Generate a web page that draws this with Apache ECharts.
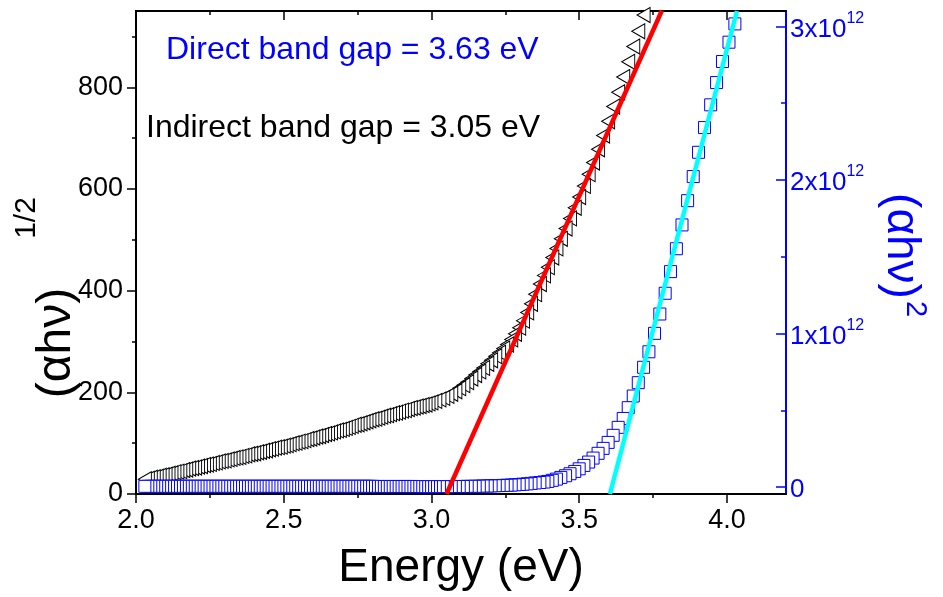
<!DOCTYPE html>
<html><head><meta charset="utf-8">
<script src="https://cdn.jsdelivr.net/npm/echarts@6/dist/echarts.min.js"></script>
<style>html,body{margin:0;padding:0;background:#fff}#c{width:943px;height:597px}</style>
</head><body><div id="c"></div>
<script>
// Photon energy (eV) of each measured point
const energyLow = [2.03,2.04,2.05,2.06,2.07,2.08,2.09,2.10,2.11,2.12,2.13,2.14,2.15,2.16,2.17,2.18,2.19,2.20,2.21,2.22,2.23,2.24,2.25,2.26,2.27,2.28,2.29,2.30,2.31,2.32,2.33,2.34,2.35,2.36,2.37,2.38,2.39,2.40,2.41,2.42,2.43,2.44,2.45,2.46,2.47,2.48,2.49,2.50,2.51,2.52,2.53,2.54,2.55,2.56,2.57,2.58,2.59,2.60,2.61,2.62,2.63,2.64,2.65,2.66,2.67,2.68,2.69,2.70,2.71,2.72,2.73,2.74,2.75,2.76,2.77,2.78,2.79,2.80,2.81,2.82,2.83,2.84,2.85,2.86,2.87,2.88,2.89,2.90,2.91,2.92,2.93,2.94,2.95,2.96,2.97,2.98,2.99,3.00];
const energyMid = [3.013,3.027,3.040,3.054,3.067,3.081,3.094,3.108,3.121,3.135,3.148,3.162,3.175,3.189,3.202,3.216,3.229,3.243,3.256,3.270,3.283,3.297,3.310,3.324,3.337,3.351,3.367];
const energyHigh = [3.381,3.394,3.409,3.423,3.438,3.454,3.469,3.485,3.500,3.516,3.532,3.547,3.564,3.581,3.598,3.615,3.632,3.649,3.666,3.683,3.700,3.718,3.736,3.755,3.773,3.791,3.809,3.829,3.848,3.867,3.886,3.904,3.924,3.945,3.965,3.985,4.007,4.027,4.047];

// (alpha h nu)^(1/2) — left axis
const sqrtLow = [29,30,32,33,34,36,37,38,40,41,43,44,45,47,48,50,51,52,54,55,57,58,59,61,62,64,65,66,68,69,71,72,73,75,76,78,79,80,82,83,85,86,88,89,91,92,93,95,96,98,100,101,103,104,106,108,109,111,113,114,116,118,119,121,123,125,126,128,130,132,134,136,137,139,141,143,145,147,148,150,152,154,155,157,159,160,162,164,165,167,169,170,172,173,175,176,178,180];
const sqrtMid = [183,186,189,193,197,202,208,214,220,227,234,241,248,256,263,271,278,286,294,304,315,327,341,357,374,393,413];
const sqrtHigh = [430,446,465,483,502,522,542,563,584,606,629,652,678,705,733,762,790,820,850,880,910,942,972];

// (alpha h nu)^2 in units of 10^12 — right axis
const sqLow = [0.005,0.005,0.005,0.005,0.005,0.005,0.005,0.005,0.005,0.005,0.005,0.005,0.005,0.005,0.005,0.005,0.005,0.005,0.005,0.005,0.005,0.005,0.005,0.005,0.005,0.005,0.005,0.005,0.005,0.005,0.005,0.005,0.005,0.005,0.005,0.005,0.005,0.005,0.005,0.005,0.005,0.005,0.005,0.005,0.005,0.005,0.005,0.005,0.005,0.005,0.005,0.005,0.005,0.005,0.005,0.005,0.005,0.005,0.005,0.005,0.005,0.005,0.005,0.005,0.005,0.005,0.005,0.005,0.005,0.005,0.005,0.005,0.005,0.005,0.005,0.005,0.005,0.005,0.004,0.004,0.004,0.004,0.004,0.004,0.004,0.004,0.004,0.004,0.004,0.004,0.004,0.004,0.003,0.003,0.003,0.003,0.003,0.003];
const sqMid = [0.003,0.003,0.003,0.003,0.004,0.004,0.004,0.004,0.005,0.005,0.005,0.006,0.007,0.007,0.008,0.009,0.010,0.011,0.012,0.013,0.015,0.017,0.019,0.021,0.024,0.027,0.030];
const sqHigh = [0.033,0.037,0.044,0.052,0.063,0.074,0.087,0.102,0.119,0.141,0.163,0.189,0.220,0.252,0.291,0.337,0.389,0.447,0.517,0.593,0.680,0.780,0.881,1.001,1.127,1.262,1.403,1.552,1.707,1.865,2.022,2.180,2.341,2.489,2.634,2.771,2.897,3.016,3.130];

// Linear fits (endpoints)
const indirectFitE = [3.051, 3.78];
const indirectFitV = [0, 951];
const directFitE = [3.604, 4.034];
const directFitV = [-0.045, 3.10];

// Tick values
const xMajor = [2.0, 2.5, 3.0, 3.5, 4.0];
const xMinor = [2.25, 2.75, 3.25, 3.75];
const yLeftMajor = [0, 200, 400, 600, 800];
const yLeftMinor = [100, 300, 500, 700, 900];
const yRightMajor = [0, 1, 2, 3];
const yRightMinor = [0.5, 1.5, 2.5];

const texts = {
  direct: 'Direct band gap = 3.63 eV',
  indirect: 'Indirect band gap = 3.05 eV',
  xName: 'Energy (eV)',
  yLeft: '(αhν)', yLeftSup: '1/2',
  yRight: '(αhν)', yRightSup: '2'
};

const energy = energyLow.concat(energyMid, energyHigh);
const sqrtVals = sqrtLow.concat(sqrtMid, sqrtHigh);
const sqVals = sqLow.concat(sqMid, sqHigh);
// points drawn from high energy to low energy (measurement order)
const pair = (xs, ys) => ys.map((y, i) => [xs[i], y]).reverse();
const line = (xs, ys) => ys.map((y, i) => [xs[i], y]);

const FONT = '"Liberation Sans", Arial, sans-serif';
const BLUE = '#0000ff';

function xAx(pos, vals, len, inside, showLine, labels) {
  return {
    type: 'value', gridIndex: 0, position: pos, min: 2.0, max: 4.2,
    axisLine: { show: showLine, onZero: false, lineStyle: { color: '#000', width: 2 } },
    axisTick: { show: true, inside: inside, length: len, customValues: vals, lineStyle: { color: '#000', width: 1.5 } },
    axisLabel: labels ? { show: true, customValues: vals, formatter: v => v.toFixed(1), fontSize: 27, fontFamily: FONT, color: '#000', margin: 13 } : { show: false },
    splitLine: { show: false }
  };
}
function yAx(pos, min, max, vals, len, inside, color, labels) {
  return {
    type: 'value', gridIndex: 0, position: pos, min: min, max: max,
    axisLine: { show: true, onZero: false, lineStyle: { color: color, width: 2 } },
    axisTick: { show: true, inside: inside, length: len, customValues: vals, lineStyle: { color: color, width: 1.5 } },
    axisLabel: labels || { show: false },
    splitLine: { show: false }
  };
}

const chart = echarts.init(document.getElementById('c'), null, { renderer: 'canvas' });
chart.setOption({
  animation: false,
  backgroundColor: '#fff',
  grid: { left: 136, right: 157, top: 11, bottom: 103, containLabel: false, outerBoundsMode: 'none' },
  xAxis: [
    xAx('bottom', xMajor, 9, false, true, true),
    xAx('bottom', xMinor, 4, false, false, false),
    xAx('top', xMajor, 9, true, true, false),
    xAx('top', xMinor, 4, true, false, false)
  ],
  yAxis: [
    yAx('left', 0, 950, yLeftMajor, 9, false, '#000',
      { show: true, customValues: yLeftMajor, fontSize: 27, fontFamily: FONT, color: '#000', margin: 13 }),
    yAx('left', 0, 950, yLeftMinor, 4, false, '#000'),
    yAx('right', -0.045, 3.10, yRightMajor, 10, true, BLUE,
      { show: true, customValues: yRightMajor, margin: 4, color: BLUE, fontFamily: FONT,
        formatter: v => v === 0 ? '{m|0}' : '{m|' + v + 'x10}{s|12}',
        rich: { m: { fontSize: 26, fontFamily: FONT, color: BLUE, lineHeight: 32, verticalAlign: 'bottom' },
                s: { fontSize: 16, fontFamily: FONT, color: BLUE, lineHeight: 16, verticalAlign: 'top' } } }),
    yAx('right', -0.045, 3.10, yRightMinor, 5, true, BLUE)
  ],
  series: [
    { type: 'scatter', xAxisIndex: 0, yAxisIndex: 0, data: pair(energy, sqrtVals),
      symbol: 'path://M13,0 L0,7.5 L13,15 Z', symbolSize: [13, 15],
      itemStyle: { color: '#fff', borderColor: '#000', borderWidth: 1, opacity: 1 },
      emphasis: { disabled: true }, z: 2 },
    { type: 'scatter', xAxisIndex: 0, yAxisIndex: 2, data: pair(energy, sqVals),
      symbol: 'rect', symbolSize: 12,
      itemStyle: { color: '#fff', borderColor: BLUE, borderWidth: 1, opacity: 1 },
      emphasis: { disabled: true }, z: 3 },
    { type: 'line', xAxisIndex: 0, yAxisIndex: 0, data: line(indirectFitE, indirectFitV),
      symbol: 'none', lineStyle: { color: '#ff0000', width: 4.5 }, z: 4, clip: true },
    { type: 'line', xAxisIndex: 0, yAxisIndex: 2, data: line(directFitE, directFitV),
      symbol: 'none', lineStyle: { color: '#00ffff', width: 4.5 }, z: 4, clip: true }
  ],
  graphic: [
    { type: 'text', x: 166, y: 50, z: 10,
      style: { text: texts.direct, fill: BLUE, fontSize: 32, fontFamily: FONT, align: 'left', verticalAlign: 'middle' } },
    { type: 'text', x: 146, y: 128, z: 10,
      style: { text: texts.indirect, fill: '#000', fontSize: 32, fontFamily: FONT, align: 'left', verticalAlign: 'middle' } },
    { type: 'text', x: 461, y: 568, z: 10,
      style: { text: texts.xName, fill: '#000', fontSize: 46, fontFamily: FONT, align: 'center', verticalAlign: 'middle' } },
    { type: 'text', x: 57, y: 343, rotation: Math.PI / 2, z: 10,
      style: { text: texts.yLeft, fill: '#000', fontSize: 48, fontFamily: FONT, align: 'center', verticalAlign: 'middle' } },
    { type: 'text', x: 27, y: 218, rotation: Math.PI / 2, z: 10,
      style: { text: texts.yLeftSup, fill: '#000', fontSize: 30, fontFamily: FONT, align: 'center', verticalAlign: 'middle' } },
    { type: 'text', x: 901, y: 246, rotation: -Math.PI / 2, z: 10,
      style: { text: texts.yRight, fill: BLUE, fontSize: 46, fontFamily: FONT, align: 'center', verticalAlign: 'middle' } },
    { type: 'text', x: 915, y: 309, rotation: -Math.PI / 2, z: 10,
      style: { text: texts.yRightSup, fill: BLUE, fontSize: 29, fontFamily: FONT, align: 'center', verticalAlign: 'middle' } }
  ]
});
</script></body></html>
